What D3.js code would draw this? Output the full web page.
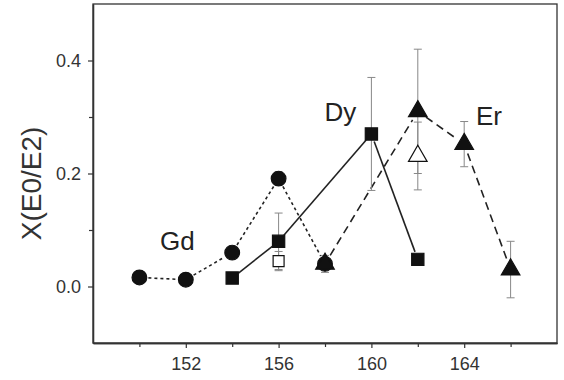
<!DOCTYPE html>
<html>
<head>
<meta charset="utf-8">
<script src="https://cdn.jsdelivr.net/npm/d3@7/dist/d3.min.js"></script>
<style>
  body { margin: 0; background: #fff; }
  svg { display: block; font-family: "Liberation Sans", Arial, sans-serif; }
</style>
</head>
<body>
<div id="chart"></div>
<script>
// mass number A vs X(E0/E2)
var gdA = [150, 152, 154, 156, 158];
var gdX = [0.016, 0.012, 0.060, 0.191, 0.040];
var gdErr = [0, 0, 0, 0.012, 0];

var dyA = [154, 156, 160, 162];
var dyX = [0.015, 0.080, 0.270, 0.048];
var dyErr = [0, 0.05, 0.10, 0];

var erA = [158, 162, 164, 166];
var erX = [0.040, 0.310, 0.252, 0.030];
var erErr = [0.015, 0.11, 0.04, 0.05];

// open symbols (alternative values)
var dyOpenA = [156];
var dyOpenX = [0.045];
var dyOpenErr = [0.017];
var erOpenA = [162];
var erOpenX = [0.231];
var erOpenErr = [0.06];

var xTicks = [152, 156, 160, 164];
var xMinor = [150, 154, 158, 162, 166];
var yTicks = [0.0, 0.2, 0.4];
var yMinor = [0.1, 0.3];

var width = 564, height = 380;
var margin = { top: 4, right: 7, bottom: 37, left: 93 };
var w = width - margin.left - margin.right;
var h = height - margin.top - margin.bottom;

var svg = d3.select("#chart").append("svg")
  .attr("width", width)
  .attr("height", height);

var g = svg.append("g")
  .attr("transform", "translate(" + margin.left + "," + margin.top + ")");

var x = d3.scaleLinear().domain([148, 168]).range([0, w]);
var y = d3.scaleLinear().domain([-0.1, 0.5]).range([h, 0]);

var ink = "#222";

// frame
g.append("rect")
  .attr("width", w).attr("height", h)
  .attr("fill", "none").attr("stroke", "#333").attr("stroke-width", 1.3);

// axes
g.append("g").attr("transform", "translate(0," + h + ")")
  .call(d3.axisBottom(x).tickValues(xTicks).tickSize(5).tickSizeOuter(0).tickPadding(9).tickFormat(d3.format("d")));
g.append("g").attr("transform", "translate(0," + h + ")")
  .call(d3.axisBottom(x).tickValues(xMinor).tickSize(4).tickSizeOuter(0).tickFormat(""));
g.append("g")
  .call(d3.axisLeft(y).tickValues(yTicks).tickSize(5).tickSizeOuter(0).tickPadding(7).tickFormat(d3.format(".1f")));
g.append("g")
  .call(d3.axisLeft(y).tickValues(yMinor).tickSize(4).tickSizeOuter(0).tickFormat(""));

g.selectAll(".domain").attr("stroke", "#333").attr("stroke-width", 1.3);
g.selectAll(".tick line").attr("stroke", "#333").attr("stroke-width", 1.2);
g.selectAll(".tick text").attr("fill", "#333")
  .attr("font-size", 18)
  .attr("font-family", "'Liberation Sans', Arial, sans-serif");

// y label
svg.append("text")
  .attr("transform", "translate(41," + (margin.top + y(0.2) + 10) + ") rotate(-90)")
  .attr("text-anchor", "middle")
  .attr("fill", "#333")
  .attr("font-size", 28)
  .text("X(E0/E2)");

// connecting lines, broken near the symbols
function drawLine(xs, ys, dash, gap) {
  for (var i = 0; i < xs.length - 1; i++) {
    var x1 = x(xs[i]), y1 = y(ys[i]), x2 = x(xs[i + 1]), y2 = y(ys[i + 1]);
    var len = Math.sqrt((x2 - x1) * (x2 - x1) + (y2 - y1) * (y2 - y1));
    var ux = (x2 - x1) / len, uy = (y2 - y1) / len;
    g.append("line")
      .attr("x1", x1 + ux * gap).attr("y1", y1 + uy * gap)
      .attr("x2", x2 - ux * gap).attr("y2", y2 - uy * gap)
      .attr("stroke", ink).attr("stroke-width", 1.6)
      .attr("stroke-dasharray", dash);
  }
}
drawLine(gdA, gdX, "3,3", 9);
drawLine(dyA, dyX, null, 8);
drawLine(erA, erX, "8,5", 10);

// error bars
function drawErr(xs, ys, es) {
  xs.forEach(function(a, i) {
    if (!es[i]) return;
    var cx = x(a), top = y(ys[i] + es[i]), bot = y(ys[i] - es[i]);
    g.append("line").attr("x1", cx).attr("x2", cx).attr("y1", top).attr("y2", bot)
      .attr("stroke", "#888").attr("stroke-width", 1);
    [top, bot].forEach(function(yy) {
      g.append("line").attr("x1", cx - 4).attr("x2", cx + 4).attr("y1", yy).attr("y2", yy)
        .attr("stroke", "#888").attr("stroke-width", 1);
    });
  });
}
drawErr(gdA, gdX, gdErr);
drawErr(dyA, dyX, dyErr);
drawErr(erA, erX, erErr);
drawErr(dyOpenA, dyOpenX, dyOpenErr);
drawErr(erOpenA, erOpenX, erOpenErr);

// symbols
function drawSym(xs, ys, type, size, filled) {
  g.selectAll(null)
    .data(xs.map(function(a, i) { return [a, ys[i]]; }))
    .enter().append("path")
    .attr("d", d3.symbol().type(type).size(size))
    .attr("transform", function(d) { return "translate(" + x(d[0]) + "," + y(d[1]) + ")"; })
    .attr("fill", filled ? "#111" : "#fff")
    .attr("stroke", "#111")
    .attr("stroke-width", 1.2);
}
drawSym(gdA, gdX, d3.symbolCircle, 170, true);
drawSym(dyA, dyX, d3.symbolSquare, 150, true);
drawSym(erA, erX, d3.symbolTriangle, 150, true);
drawSym(dyOpenA, dyOpenX, d3.symbolSquare, 120, false);
drawSym(erOpenA, erOpenX, d3.symbolTriangle, 150, false);

// element labels
var labels = [
  { t: "Gd", a: 151.64, v: 0.0646 },
  { t: "Dy", a: 158.66, v: 0.293 },
  { t: "Er", a: 165.07, v: 0.286 }
];
g.selectAll(null).data(labels).enter().append("text")
  .attr("x", function(d) { return x(d.a); })
  .attr("y", function(d) { return y(d.v); })
  .attr("text-anchor", "middle")
  .attr("fill", "#222")
  .attr("font-size", 26)
  .text(function(d) { return d.t; });
</script>
</body>
</html>
